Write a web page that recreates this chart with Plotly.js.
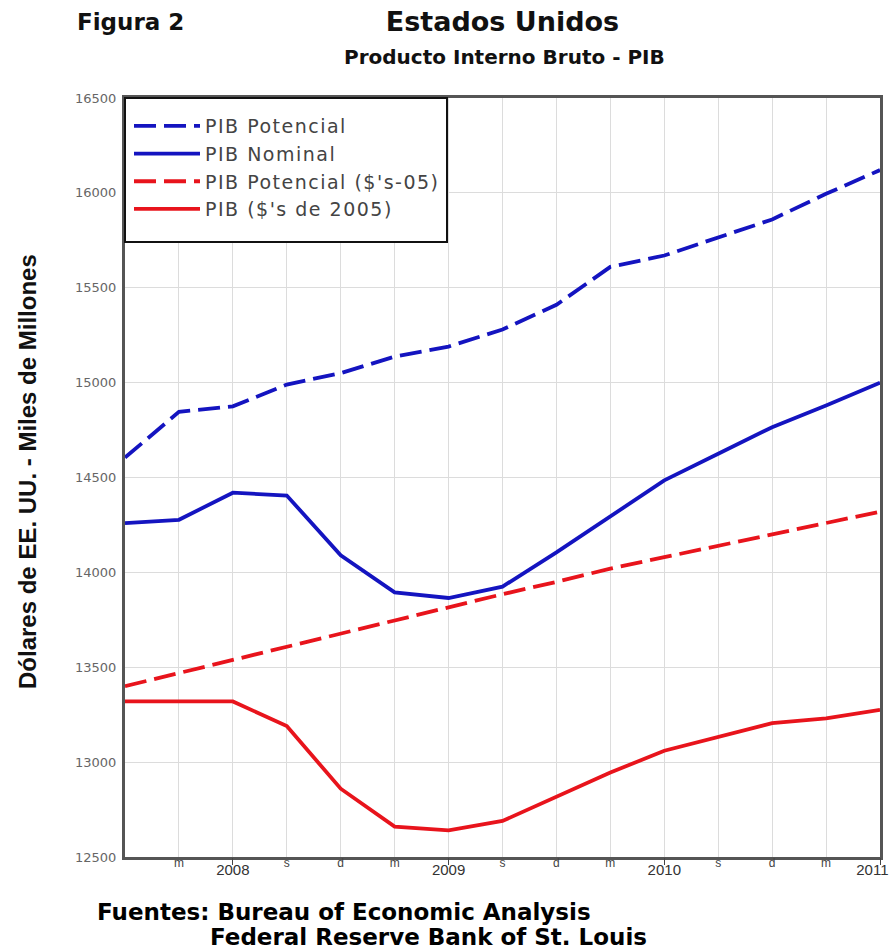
<!DOCTYPE html>
<html>
<head>
<meta charset="utf-8">
<script src="https://cdn.plot.ly/plotly-3.0.1.min.js"></script>
<style>
html,body{margin:0;padding:0;background:#fff;}
#chart{width:890px;height:949px;}
.legendtext{letter-spacing:1.5px;}
</style>
</head>
<body>
<div id="chart"></div>
<script>
// Quarterly observations (index 0 = first quarter shown, 14 = 2011)
const quarters = [0,1,2,3,4,5,6,7,8,9,10,11,12,13,14];
const pibPotencial   = [14605,14846,14875,14990,15050,15137,15190,15280,15410,15610,15670,15765,15860,15995,16120];
const pibNominal     = [14260,14277,14420,14405,14090,13895,13865,13925,14105,14295,14485,14625,14765,14880,15000];
const pibPotencial05 = [13400,13470,13535,13607,13679,13750,13820,13885,13950,14020,14080,14140,14200,14260,14320];
const pib2005        = [13320,13320,13320,13190,12860,12660,12640,12690,12820,12945,13060,13135,13205,13230,13275];

const monthTickVals = [1,2,3,4,5,6,7,8,9,10,11,12,13,14];
const monthTickText = ['m','','s','d','m','','s','d','m','','s','d','m',''];
const yearTickVals = [2,6,10];
const yearTickText = ['2008','2009','2010'];
const lastYearTickVals = [14];
const lastYearTickText = ['2011'];

const seriesNames = ['PIB Potencial','PIB Nominal',"PIB Potencial ($'s-05)","PIB ($'s de 2005)"];

const blue = '#1414c0';
const red = '#e8141c';
const dashPat = '22px,8px';

const traces = [
  {x: quarters, y: pibPotencial, name: seriesNames[0], legendgroup:'a', mode:'lines', line:{color:blue, width:3.8, dash:dashPat}},
  {x: quarters, y: pibNominal, name: seriesNames[1], legendgroup:'b', mode:'lines', line:{color:blue, width:3.8}},
  {x: quarters, y: pibPotencial05, name: seriesNames[2], legendgroup:'c', mode:'lines', line:{color:red, width:3.8, dash:dashPat}},
  {x: quarters, y: pib2005, name: seriesNames[3], legendgroup:'d', mode:'lines', line:{color:red, width:3.8}},
  {x: [0,14], y: [null,null], xaxis:'x2', showlegend:false, hoverinfo:'skip', mode:'lines'},
  {x: [0,14], y: [null,null], xaxis:'x3', showlegend:false, hoverinfo:'skip', mode:'lines'}
];

const yearAxisBase = {
  range:[0,14], overlaying:'x', anchor:'y', side:'bottom',
  tickfont:{family:'Liberation Sans, Arial, sans-serif', size:15, color:'#333'},
  ticks:'outside', ticklen:7, tickcolor:'#444', tickwidth:1, ticklabelstandoff:-8,
  showgrid:false, showline:false, zeroline:false
};

const layout = {
  width: 890, height: 949,
  margin: {l:125, r:10, t:98, b:92},
  paper_bgcolor:'#fff', plot_bgcolor:'#fff',
  showlegend: true,
  title: {text:'Estados Unidos', x:0.5, xref:'paper', xanchor:'center', y:1-22/949, yref:'container', yanchor:'middle',
          font:{family:'DejaVu Sans, sans-serif', size:27, color:'#111', weight:'bold'}},
  xaxis: {
    range:[0,14], tickvals: monthTickVals, ticktext: monthTickText,
    tickfont:{family:'Liberation Sans, Arial, sans-serif', size:12, color:'#444'},
    ticks:'', ticklabelstandoff:-7, showgrid:true, gridcolor:'#dcdcdc', gridwidth:1,
    showline:true, linecolor:'#555', linewidth:3, mirror:true, zeroline:false
  },
  xaxis2: Object.assign({}, yearAxisBase, {tickvals: yearTickVals, ticktext: yearTickText}),
  xaxis3: Object.assign({}, yearAxisBase, {tickvals: lastYearTickVals, ticktext: lastYearTickText,
                                           ticklabelposition:'outside left', ticklabelshift:9, ticklabelstandoff:-1,
                                           ticklabeloverflow:'allow'}),
  yaxis: {
    range:[12500,16500], dtick:500, tick0:12500, tickformat:'d',
    tickfont:{family:'DejaVu Sans, sans-serif', size:13, color:'#666'},
    ticks:'', showgrid:true, gridcolor:'#dcdcdc', gridwidth:1,
    showline:true, linecolor:'#555', linewidth:3, mirror:true, zeroline:false, ticklabelstandoff:3
  },
  legend: {
    x:4/755, y:(857-107)/759, xanchor:'left', yanchor:'top', xref:'paper', yref:'paper',
    bgcolor:'rgba(0,0,0,0)', borderwidth:0,
    font:{family:'DejaVu Sans, sans-serif', size:19, color:'#444'},
    itemwidth:66, traceorder:'grouped', tracegroupgap:0
  },
  shapes: [
    {type:'rect', xref:'paper', yref:'paper', x0:0, x1:(447-125)/755, y0:(857-242)/759, y1:1,
     fillcolor:'#fff', line:{color:'#111', width:2}, layer:'above'}
  ],
  annotations: [
    {text:'Figura 2', xref:'paper', yref:'paper', x:(130-125)/755, y:(857-22)/759, xanchor:'center', yanchor:'middle', showarrow:false,
     font:{family:'DejaVu Sans, sans-serif', size:23, color:'#111', weight:'bold'}},
    {text:'Producto Interno Bruto - PIB', xref:'paper', yref:'paper', x:(504-125)/755, y:(857-57)/759, xanchor:'center', yanchor:'middle', showarrow:false,
     font:{family:'DejaVu Sans, sans-serif', size:20, color:'#111', weight:'bold'}},
    {text:'Dólares de EE. UU. - Miles de Millones', xref:'paper', yref:'paper', x:(27-125)/755, y:(857-472)/759, xanchor:'center', yanchor:'middle', textangle:-90, showarrow:false,
     font:{family:'Liberation Sans, Arial, sans-serif', size:24, color:'#111', weight:'bold'}},
    {text:'Fuentes: Bureau of Economic Analysis', xref:'paper', yref:'paper', x:(95-125)/755, y:(857-912)/759, xanchor:'left', yanchor:'middle', showarrow:false,
     font:{family:'DejaVu Sans, sans-serif', size:23, color:'#000', weight:'bold'}},
    {text:'Federal Reserve Bank of St. Louis', xref:'paper', yref:'paper', x:(208-125)/755, y:(857-937)/759, xanchor:'left', yanchor:'middle', showarrow:false,
     font:{family:'DejaVu Sans, sans-serif', size:23, color:'#000', weight:'bold'}}
  ]
};

Plotly.newPlot('chart', traces, layout, {staticPlot:true, displayModeBar:false});
</script>
</body>
</html>
